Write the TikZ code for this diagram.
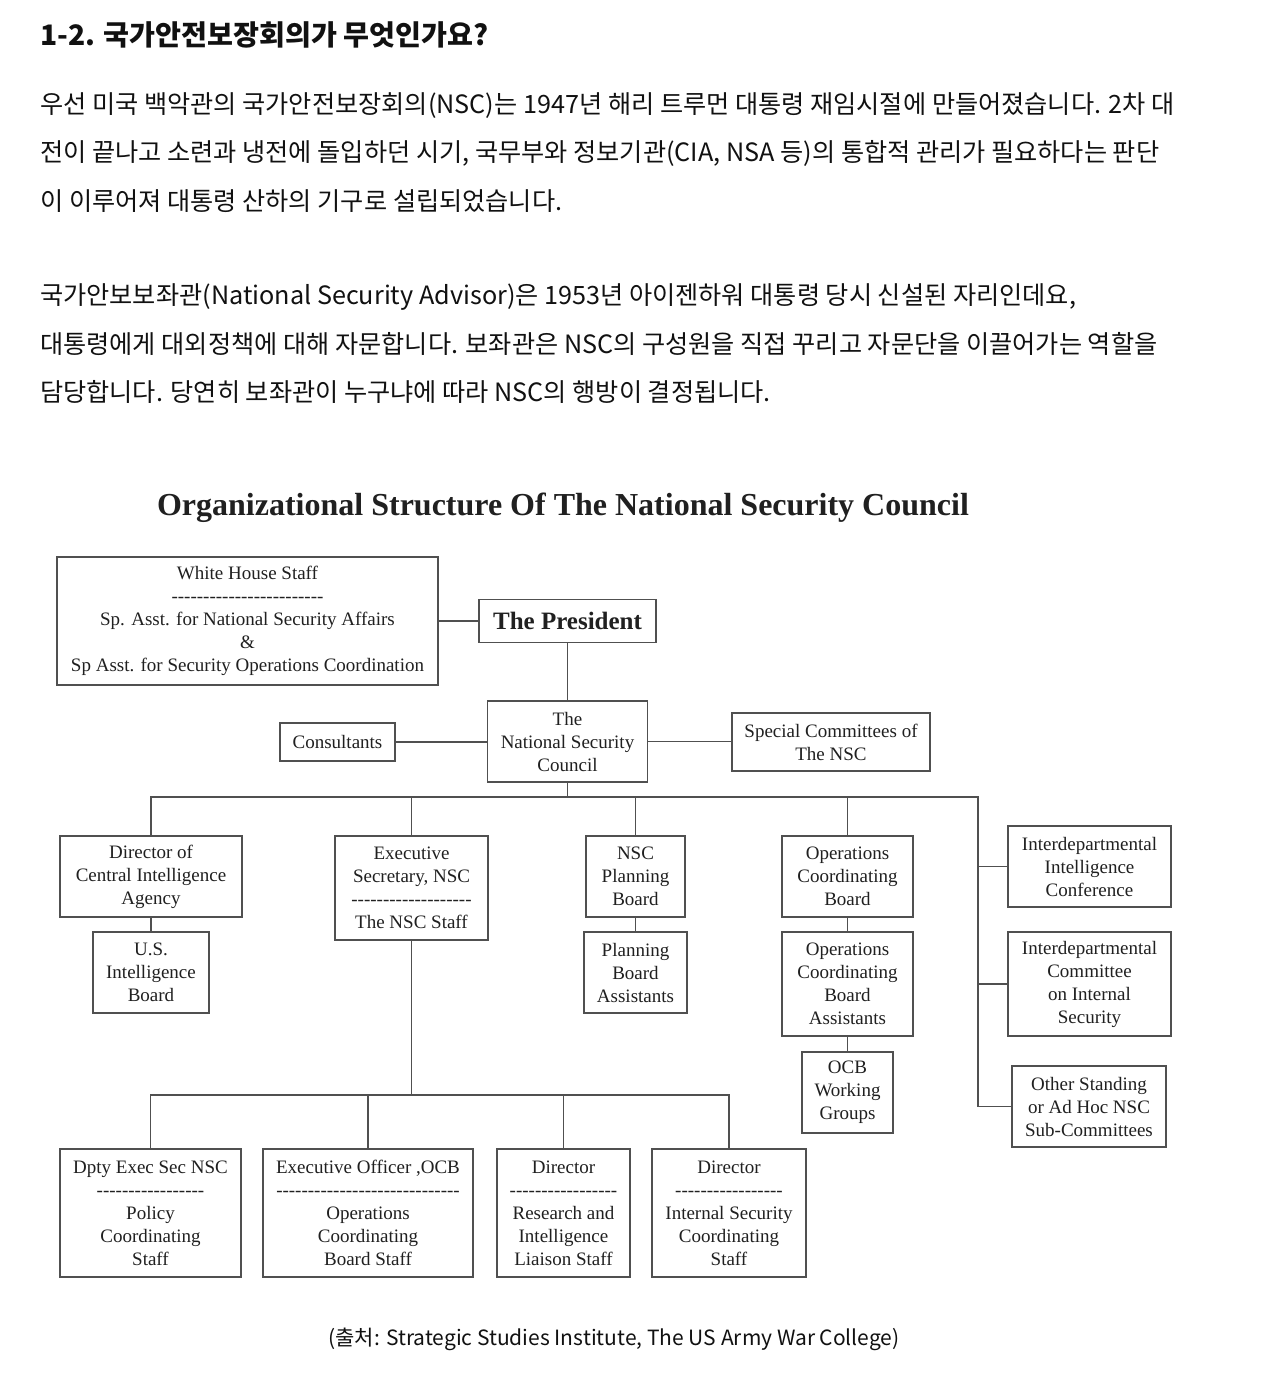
\documentclass[tikz,border=0pt]{standalone}
\usepackage{fontspec}
\newfontfamily\krf{Noto Sans CJK KR}
\newfontfamily\chartf{Liberation Serif}
\newcommand\dsh[1]{\foreach\ii in {1,...,#1}{-\kern0pt}}
\definecolor{boxc}{HTML}{505050}
\definecolor{txtc}{HTML}{202020}
\definecolor{bodyc}{HTML}{111111}
\tikzset{
  box/.style={draw=boxc, line width=1.4pt, inner sep=0pt, align=center, text=txtc,
    font={\chartf\fontsize{19}{23}\selectfont}},
  conn/.style={draw=boxc, line width=1.4pt},
  body/.style={anchor=west, inner sep=0pt, text=bodyc, font={\krf\fontsize{25.2}{30}\selectfont}}
}
\begin{document}
\begin{tikzpicture}[x=1pt,y=-1pt]
\useasboundingbox (0,0) rectangle (1280,1379);
\fill[white] (0,0) rectangle (1280,1379);
% Korean text
\node[body, font={\krf\bfseries\fontsize{28.2}{34}\selectfont}] (ttl) at (40,35) {1-2. 국가안전보장회의가 무엇인가요?};
\node[body] (p1) at (40,106) {우선 미국 백악관의 국가안전보장회의(NSC)는 1947년 해리 트루먼 대통령 재임시절에 만들어졌습니다. 2차 대};
\node[body] (p2) at (40,153) {전이 끝나고 소련과 냉전에 돌입하던 시기, 국무부와 정보기관(CIA, NSA 등)의 통합적 관리가 필요하다는 판단};
\node[body] (p3) at (40,201) {이 이루어져 대통령 산하의 기구로 설립되었습니다.};
\node[body] (p4) at (40,297) {국가안보보좌관(National Security Advisor)은 1953년 아이젠하워 대통령 당시 신설된 자리인데요,};
\node[body] (p5) at (40,344) {대통령에게 대외정책에 대해 자문합니다. 보좌관은 NSC의 구성원을 직접 꾸리고 자문단을 이끌어가는 역할을};
\node[body] (p6) at (40,392) {담당합니다. 당연히 보좌관이 누구냐에 따라 NSC의 행방이 결정됩니다.};
\node[body, anchor=center, font={\krf\fontsize{21}{26}\selectfont}] (src) at (614,1339) {(출처: Strategic Studies Institute, The US Army War College)};
% chart title
\node[inner sep=0pt, text=txtc, font={\chartf\bfseries\fontsize{32}{38}\selectfont}] (ctitle) at (563,508) {Organizational Structure Of The National Security Council};
% boxes
\node[box, minimum width=381, minimum height=128] (whs) at (247.5,621) {White House Staff\\\dsh{24}\\Sp. Asst. for National Security Affairs\\\&\\Sp Asst. for Security Operations Coordination};
\node[box, minimum width=177, minimum height=43, font={\chartf\bfseries\fontsize{25}{30}\selectfont}] (pres) at (567.5,621) {The President};
\node[box, minimum width=160, minimum height=81] (nsc) at (567.5,741.5) {The\\National Security\\Council};
\node[box, minimum width=115, minimum height=38] (cons) at (337.5,742) {Consultants};
\node[box, minimum width=198, minimum height=58] (spec) at (831,742) {Special Committees of\\The NSC};
\node[box, minimum width=182, minimum height=81] (dci) at (151,876.5) {Director of\\Central Intelligence\\Agency};
\node[box, minimum width=116, minimum height=81] (usib) at (151,972.5) {U.S.\\Intelligence\\Board};
\node[box, minimum width=153, minimum height=104] (exs) at (411.5,888) {Executive\\Secretary, NSC\\\dsh{19}\\The NSC Staff};
\node[box, minimum width=99, minimum height=81] (npb) at (635.5,876.5) {NSC\\Planning\\Board};
\node[box, minimum width=103, minimum height=81] (pba) at (635.5,972.5) {Planning\\Board\\Assistants};
\node[box, minimum width=131, minimum height=81] (ocb) at (847.5,876.5) {Operations\\Coordinating\\Board};
\node[box, minimum width=131, minimum height=104] (ocba) at (847.5,984) {Operations\\Coordinating\\Board\\Assistants};
\node[box, minimum width=91, minimum height=81] (ocbw) at (847.5,1092.5) {OCB\\Working\\Groups};
\node[box, minimum width=163, minimum height=81] (iic) at (1089.5,866.5) {Interdepartmental\\Intelligence\\Conference};
\node[box, minimum width=163, minimum height=104] (icis) at (1089.5,984) {Interdepartmental\\Committee\\on Internal\\Security};
\node[box, minimum width=154, minimum height=81] (oth) at (1089,1106.5) {Other Standing\\or Ad Hoc NSC\\Sub-Committees};
\node[box, minimum width=181, minimum height=128] (dpty) at (150.5,1213) {Dpty Exec Sec NSC\\\dsh{17}\\Policy\\Coordinating\\Staff};
\node[box, minimum width=210, minimum height=128] (exo) at (368,1213) {Executive Officer ,OCB\\\dsh{29}\\Operations\\Coordinating\\Board Staff};
\node[box, minimum width=133, minimum height=128] (dri) at (563.5,1213) {Director\\\dsh{17}\\Research and\\Intelligence\\Liaison Staff};
\node[box, minimum width=154, minimum height=128] (dis) at (729,1213) {Director\\\dsh{17}\\Internal Security\\Coordinating\\Staff};
% bus coordinates
\coordinate (b1) at (151,797);
\coordinate (b2) at (978,797);
\coordinate (b3) at (150.5,1095);
% connectors
\draw[conn] (whs.east) -- (whs.east -| pres.west);
\draw[conn] (pres.south) -- (pres.south |- nsc.north);
\draw[conn] (cons.east) -- (cons.east -| nsc.west);
\draw[conn] (nsc.east) -- (nsc.east -| spec.west);
\draw[conn] (nsc.south) -- (nsc.south |- b1);
\draw[conn] (dci.north) -- (b1) -- (b2) -- (b2 |- oth.west) -- (oth.west);
\draw[conn] (exs.north) -- (exs.north |- b1);
\draw[conn] (npb.north) -- (npb.north |- b1);
\draw[conn] (ocb.north) -- (ocb.north |- b1);
\draw[conn] (iic.west) -- (iic.west -| b2);
\draw[conn] (icis.west) -- (icis.west -| b2);
\draw[conn] (dci.south) -- (usib.north);
\draw[conn] (npb.south) -- (pba.north);
\draw[conn] (ocb.south) -- (ocba.north);
\draw[conn] (ocba.south) -- (ocbw.north);
\draw[conn] (exs.south) -- (exs.south |- b3);
\draw[conn] (dpty.north) -- (b3) -- (dis.north |- b3) -- (dis.north);
\draw[conn] (exo.north) -- (exo.north |- b3);
\draw[conn] (dri.north) -- (dri.north |- b3);
\end{tikzpicture}
\end{document}
